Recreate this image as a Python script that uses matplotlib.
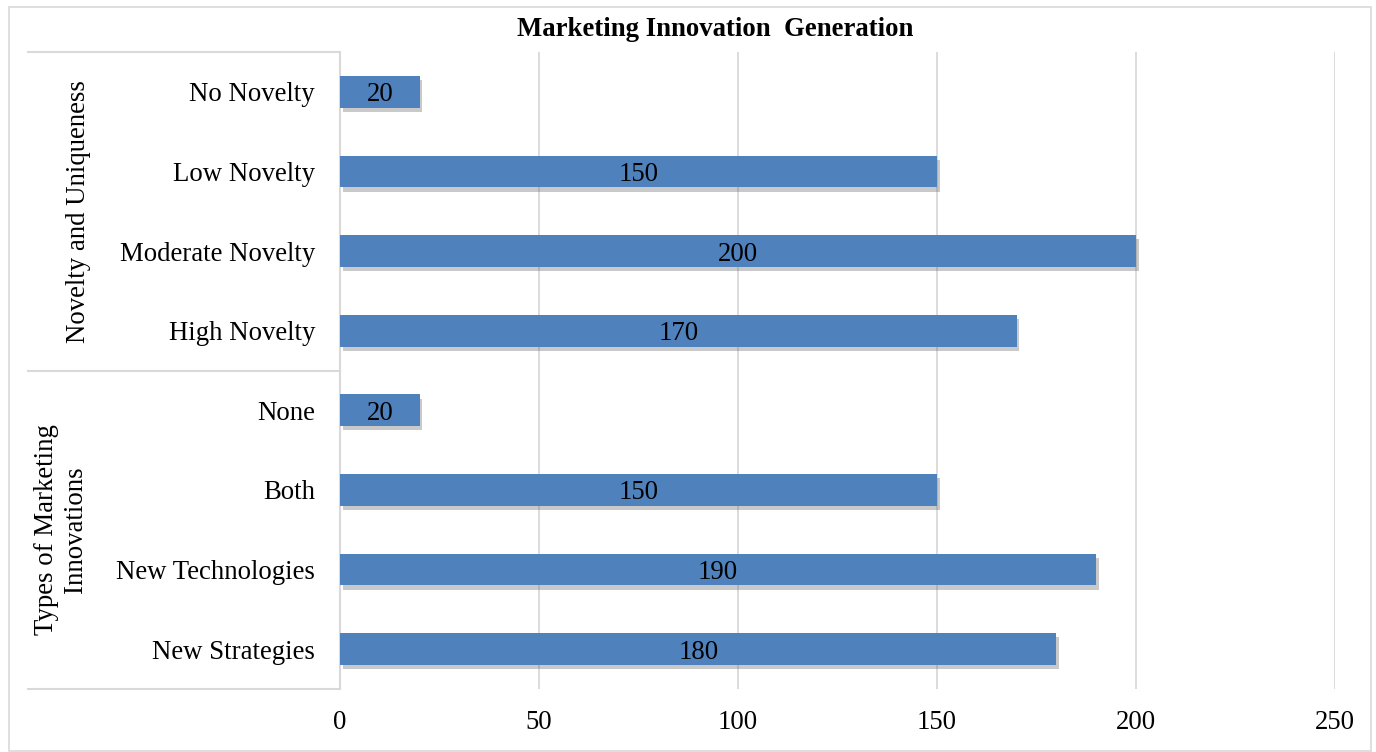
import matplotlib.pyplot as plt
import matplotlib.patheffects as pe
from matplotlib.patches import Rectangle

plt.rcParams['font.family'] = ['Liberation Serif', 'DejaVu Serif']

# categories listed bottom -> top
categories = ['New Strategies', 'New Technologies', 'Both', 'None',
              'High Novelty', 'Moderate Novelty', 'Low Novelty', 'No Novelty']
values = [180, 190, 150, 20, 170, 200, 150, 20]
groups = ['Types of Marketing\nInnovations', 'Novelty and Uniqueness']
group_sizes = [4, 4]
xticks = [0, 50, 100, 150, 200, 250]

bar_color = '#4F81BD'
grid_color = '#d9d9d9'
fs = 19.3

fig = plt.figure(figsize=(13.76, 7.52), dpi=100)
ax = fig.add_axes([340 / 1376, 1 - 689 / 752, 995 / 1376, 637 / 752])

# outer border of the chart area
fig.patches.append(Rectangle((9 / 1376, 1 / 752), 1362 / 1376, 744 / 752,
                             transform=fig.transFigure, fill=False,
                             edgecolor=grid_color, linewidth=1.2))

ypos = list(range(len(categories)))
bars = ax.barh(ypos, values, height=0.4, color=bar_color, zorder=3)
for b in bars:
    b.set_path_effects([pe.SimplePatchShadow(offset=(2, -3), shadow_rgbFace='#666666', alpha=0.35),
                        pe.Normal()])

for y, v in zip(ypos, values):
    ax.text(v / 2, y, str(v), ha='center', va='center_baseline', fontsize=fs,
            color='black', zorder=4)

ax.set_xlim(0, 250)
ax.set_ylim(-0.5, len(categories) - 0.5)
ax.set_xticks(xticks)
ax.set_yticks(ypos)
ax.set_yticklabels(categories)
ax.tick_params(axis='both', length=0, labelsize=fs)
ax.tick_params(axis='y', pad=18)
ax.tick_params(axis='x', pad=15)
ax.xaxis.grid(True, color=grid_color, linewidth=1.3, zorder=0)
ax.set_axisbelow(True)
for s in ['top', 'right', 'bottom']:
    ax.spines[s].set_visible(False)
ax.spines['left'].set_color(grid_color)
ax.spines['left'].set_linewidth(1.5)

# group brackets on the left
tr = ax.get_yaxis_transform()
left_x = (28 - 340) / 995
bounds = [-0.5]
for n in group_sizes:
    bounds.append(bounds[-1] + n)
for yb in bounds:
    ax.plot([left_x, 0], [yb, yb], transform=tr, color=grid_color,
            linewidth=1.5, clip_on=False)
label_x = [(61 - 340) / 995, (79 - 340) / 995]
for i, g in enumerate(groups):
    yc = (bounds[i] + bounds[i + 1]) / 2
    ax.text(label_x[i], yc, g, transform=tr, rotation=90, ha='center', va='center',
            fontsize=fs, linespacing=1.2)

fig.text(715 / 1376, 1 - 29 / 752, 'Marketing Innovation  Generation',
         ha='center', va='center', fontsize=fs, fontweight='bold')

fig.savefig('out.png', dpi=100)
